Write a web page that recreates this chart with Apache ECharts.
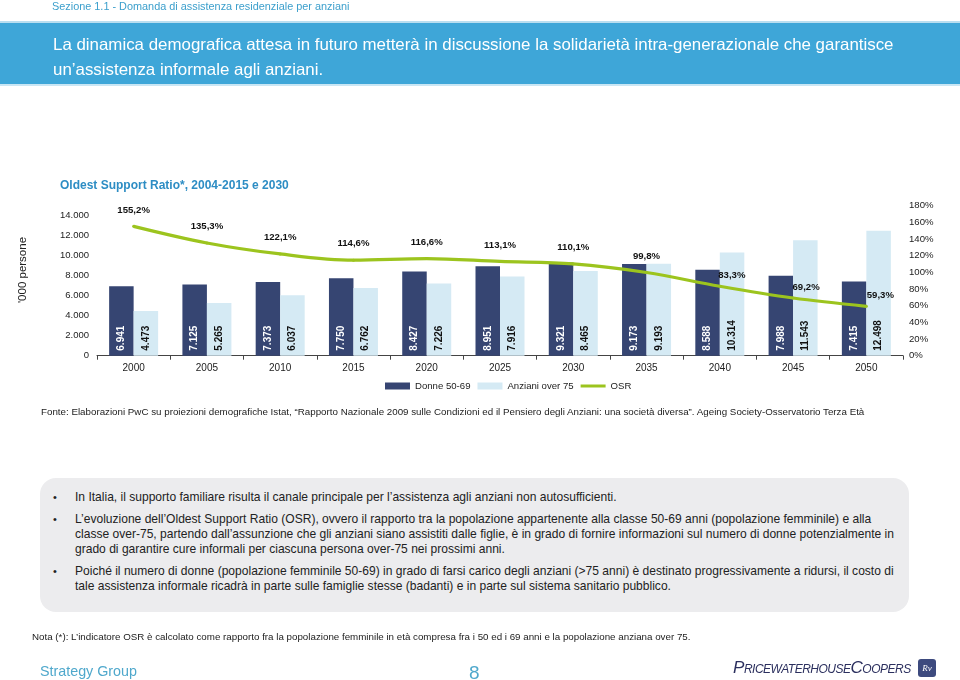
<!DOCTYPE html>
<html><head><meta charset="utf-8">
<script src="https://cdn.jsdelivr.net/npm/echarts@6/dist/echarts.min.js"></script>
<style>
html,body{margin:0;padding:0;background:#fff}
body{width:960px;height:680px;overflow:hidden;position:relative;font-family:"Liberation Sans",Arial,sans-serif}
#chart{position:absolute;left:0;top:0;width:960px;height:680px;z-index:1}
.t{position:absolute;white-space:nowrap;z-index:2}
</style></head><body>
<div id="chart"></div>

<div class="t" data-w="298" style="left:52px;top:-2px;font-size:11px;line-height:16px;color:#3b9fcc">Sezione 1.1 - Domanda di assistenza residenziale per anziani</div>
<div style="position:absolute;left:0;top:21px;width:960px;height:2px;background:#b9def0"></div>
<div style="position:absolute;left:0;top:23px;width:960px;height:61px;background:#3ea6d8"></div>
<div style="position:absolute;left:0;top:84px;width:960px;height:2px;background:#c9e6f4"></div>
<div class="t banner" data-w="841" style="left:53px;top:34px;font-size:16px;line-height:22px;color:#fff">La dinamica demografica attesa in futuro metterà in discussione la solidarietà intra-generazionale che garantisce</div>
<div class="t banner" style="left:53px;top:59px;font-size:16px;line-height:22px;color:#fff">un’assistenza informale agli anziani.</div>

<div class="t" data-w="229" style="left:60px;top:177px;font-size:12px;line-height:16px;color:#2d8dc4;font-weight:bold">Oldest Support Ratio*, 2004-2015 e 2030</div>

<div class="t" style="left:14px;top:262px;width:16px;height:16px;line-height:16px;z-index:2"><div style="position:absolute;left:0;top:0;transform:translate(-50%,0) rotate(-90deg);transform-origin:50% 50%;font-size:11.5px;color:#222;white-space:nowrap;width:80px;text-align:center;margin-left:8px">'000 persone</div></div>

<div class="t" data-w="825" style="left:41px;top:404px;font-size:10px;line-height:16px;color:#222">Fonte: Elaborazioni PwC su proiezioni demografiche Istat, “Rapporto Nazionale 2009 sulle Condizioni ed il Pensiero degli Anziani: una società diversa”. Ageing Society-Osservatorio Terza Età</div>

<div style="position:absolute;left:40px;top:478px;width:869px;height:134px;border-radius:16px;background:#ececee;z-index:1"></div>
<div class="t" style="left:53px;top:489px;font-size:11px;line-height:16px;color:#222">•</div>
<div class="t" style="left:53px;top:511px;font-size:11px;line-height:16px;color:#222">•</div>
<div class="t" style="left:53px;top:563px;font-size:11px;line-height:16px;color:#222">•</div>
<div class="t bl" style="left:75px;top:489px;font-size:12px;line-height:16px;color:#222">In Italia, il supporto familiare risulta il canale principale per l’assistenza agli anziani non autosufficienti.</div>
<div class="t bl" data-w="797" style="left:75px;top:511px;font-size:12px;line-height:16px;color:#222">L’evoluzione dell’Oldest Support Ratio (OSR), ovvero il rapporto tra la popolazione appartenente alla classe 50-69 anni (popolazione femminile) e alla</div>
<div class="t bl" style="left:75px;top:526px;font-size:12px;line-height:16px;color:#222">classe over-75, partendo dall’assunzione che gli anziani siano assistiti dalle figlie, è in grado di fornire informazioni sul numero di donne potenzialmente in</div>
<div class="t bl" style="left:75px;top:541px;font-size:12px;line-height:16px;color:#222">grado di garantire cure informali per ciascuna persona over-75 nei prossimi anni.</div>
<div class="t bl" style="left:75px;top:563px;font-size:12px;line-height:16px;color:#222">Poiché il numero di donne (popolazione femminile 50-69) in grado di farsi carico degli anziani (&gt;75 anni) è destinato progressivamente a ridursi, il costo di</div>
<div class="t bl" style="left:75px;top:578px;font-size:12px;line-height:16px;color:#222">tale assistenza informale ricadrà in parte sulle famiglie stesse (badanti) e in parte sul sistema sanitario pubblico.</div>

<div class="t" data-w="659" style="left:32px;top:629px;font-size:10px;line-height:16px;color:#222">Nota (*): L’indicatore OSR è calcolato come rapporto fra la popolazione femminile in età compresa fra i 50 ed i 69 anni e la popolazione anziana over 75.</div>

<div class="t" data-w="97" style="left:40px;top:661px;font-size:15px;line-height:20px;color:#4fa8cc">Strategy Group</div>
<div class="t" style="left:469px;top:661px;font-size:19px;line-height:24px;color:#4fa8cc">8</div>
<div class="t" data-w="179" style="left:733px;top:656px;font-size:20px;line-height:24px;color:#2b2f5e;font-variant:small-caps;font-style:italic;letter-spacing:-0.5px">PricewaterhouseCoopers</div>
<div style="position:absolute;left:918px;top:659px;width:18px;height:18px;border-radius:3px;background:#3d4a7e;z-index:2;color:#fff;font-size:9px;line-height:18px;text-align:center;font-style:italic;font-family:'Liberation Serif',serif">Rv</div>

<script>
// ---- data ----
const categories = ['2000','2005','2010','2015','2020','2025','2030','2035','2040','2045','2050'];
const donne5069 = [6941, 7125, 7373, 7750, 8427, 8951, 9321, 9173, 8588, 7988, 7415];
const anzianiOver75 = [4473, 5265, 6037, 6762, 7226, 7916, 8465, 9193, 10314, 11543, 12498];
const osrPercent = [155.2, 135.3, 122.1, 114.6, 116.6, 113.1, 110.1, 99.8, 83.3, 69.2, 59.3];
const seriesNames = ['Donne 50-69', 'Anziani over 75', 'OSR'];

// ---- text fitting for page texts ----
function fit(el, target){
  const fs = parseFloat(getComputedStyle(el).fontSize);
  const w = el.getBoundingClientRect().width;
  return fs * target / w;
}
document.querySelectorAll('[data-w]').forEach(el=>{
  if (el.classList.contains('bl') || el.classList.contains('banner')) return;
  el.style.fontSize = fit(el, +el.dataset.w) + 'px';
});
['bl','banner'].forEach(cls=>{
  const els = [...document.querySelectorAll('.'+cls)];
  const ref = els.find(e=>e.dataset.w);
  const fs = fit(ref, +ref.dataset.w);
  els.forEach(e=>e.style.fontSize = fs + 'px');
});

function thousands(v){ return String(v).replace(/\B(?=(\d{3})+(?!\d))/g, '.'); }
function pct(v){ return v.toFixed(1).replace('.', ',') + '%'; }

const FONT = '"Liberation Sans", Arial, sans-serif';
const navy = '#364572', light = '#d5eaf4', green = '#9cc41e';

const lineLabelShift = {8:[12,0], 9:[13,0], 10:[14,0]};
const osrData = osrPercent.map((v,i)=>{
  if (lineLabelShift[i]) return {value:v, label:{distance:4, offset:lineLabelShift[i]}};
  return v;
});

const chart = echarts.init(document.getElementById('chart'), null, {renderer:'canvas'});
chart.setOption({
  animation:false,
  backgroundColor:'transparent',
  textStyle:{fontFamily:FONT},
  grid:{left:97, right:57, top:205.7, bottom:324.3, containLabel:false},
  legend:{
    left:385, top:381, padding:0, itemWidth:25, itemHeight:7, itemGap:7,
    textStyle:{fontSize:9.6, color:'#222', fontFamily:FONT},
    data:[
      {name:seriesNames[0], icon:'rect'},
      {name:seriesNames[1], icon:'rect'},
      {name:seriesNames[2], icon:'path://M0,0H25V3H0Z'}
    ]
  },
  xAxis:{
    type:'category', data:categories,
    axisLine:{lineStyle:{color:'#444', width:1}},
    axisTick:{show:true, length:4, lineStyle:{color:'#444'}},
    axisLabel:{fontSize:10, color:'#222', margin:8, fontFamily:FONT}
  },
  yAxis:[
    {type:'value', min:0, max:15000, interval:2000,
     splitLine:{show:false}, axisLine:{show:false}, axisTick:{show:false},
     axisLabel:{fontSize:9.5, color:'#222', margin:8, fontFamily:FONT,
       formatter:v=> v>14000 ? '' : thousands(v)}},
    {type:'value', min:0, max:180, interval:20, position:'right',
     splitLine:{show:false}, axisLine:{show:false}, axisTick:{show:false},
     axisLabel:{fontSize:9.6, color:'#222', margin:6, fontFamily:FONT, formatter:v=>v+'%'}}
  ],
  series:[
    {name:seriesNames[0], type:'bar', data:donne5069, barWidth:24.5, barGap:'0%',
     itemStyle:{color:navy},
     label:{show:true, position:'insideBottom', rotate:90, align:'left', verticalAlign:'middle',
       distance:5, fontSize:10, fontWeight:'bold', color:'#fff', fontFamily:FONT,
       formatter:p=>thousands(p.value)}},
    {name:seriesNames[1], type:'bar', data:anzianiOver75, barWidth:24.5, barGap:'0%',
     itemStyle:{color:light},
     label:{show:true, position:'insideBottom', rotate:90, align:'left', verticalAlign:'middle',
       distance:5, fontSize:10, fontWeight:'bold', color:'#111', fontFamily:FONT,
       formatter:p=>thousands(p.value)}},
    {name:seriesNames[2], type:'line', yAxisIndex:1, data:osrData, smooth:0.35,
     symbol:'circle', symbolSize:3, showSymbol:true,
     lineStyle:{color:green, width:3.2}, itemStyle:{color:green},
     label:{show:true, position:'top', distance:10, fontSize:9.6, fontWeight:'bold', color:'#111', fontFamily:FONT,
       formatter:p=>pct(p.value)}}
  ]
});
</script>
</body></html>
